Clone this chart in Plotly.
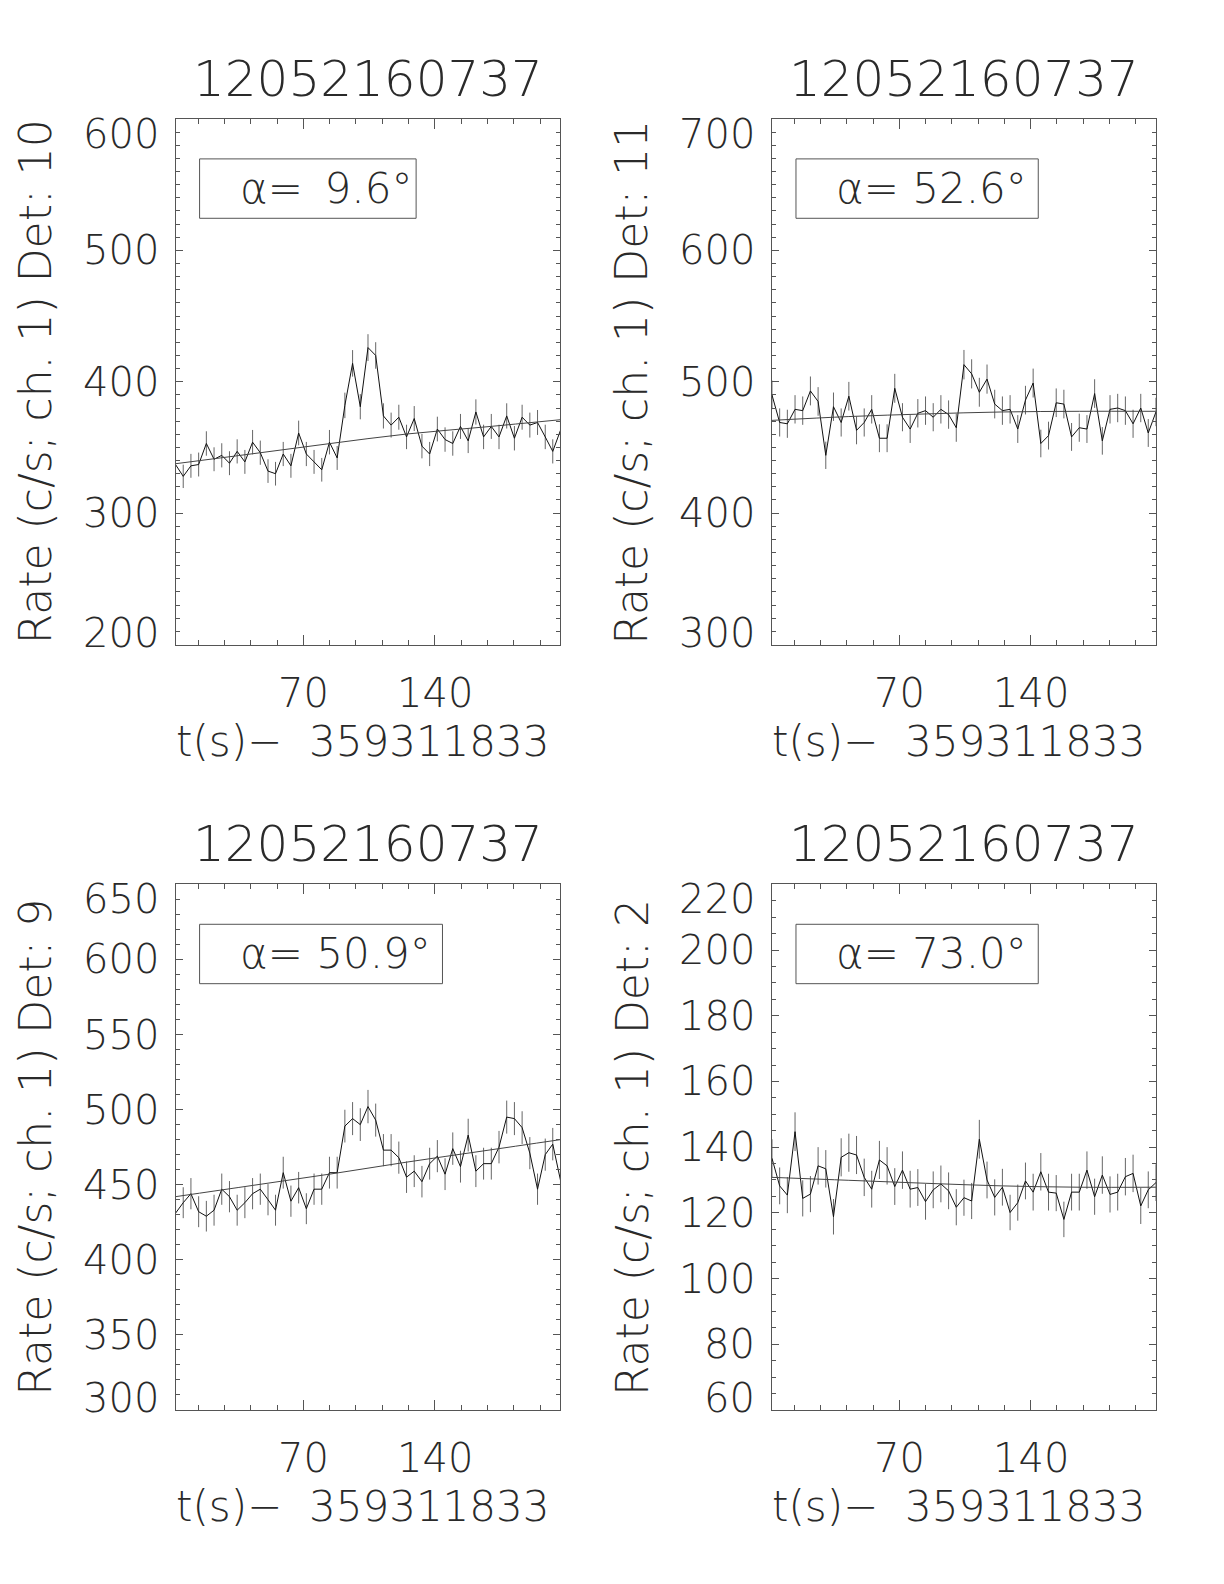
import plotly.graph_objects as go

# ---------------- data ----------------
TIME = [2.0, 6.1, 10.2, 14.3, 18.4, 22.5, 26.6, 30.7, 34.8, 38.9, 43.0, 47.1, 51.2, 55.2, 59.3,
        63.4, 67.5, 71.6, 75.7, 79.8, 83.9, 88.0, 92.1, 96.2, 100.3, 104.4, 108.5, 112.6, 116.7,
        120.8, 124.9, 129.0, 133.1, 137.2, 141.3, 145.4, 149.5, 153.6, 157.7, 161.8, 165.9, 170.0,
        174.1, 178.2, 182.3, 186.4, 190.5, 194.6, 198.7, 202.7, 206.8]
BG_TIME = [2.0, 43.0, 83.9, 124.9, 165.9, 206.8]

TITLE = "12052160737"
XTITLE = "t(s)\u2212  359311833"
XTICKS = [70, 140]

rate_det10 = [337, 328, 336, 337, 353, 341, 344, 338, 347, 339, 354, 346, 332, 330, 345, 336, 361,
              345, 339, 333, 354, 342, 382, 414, 381, 426, 420, 374, 367, 373, 358, 372, 351, 345,
              364, 356, 353, 366, 355, 377, 358, 366, 358, 374, 357, 373, 367, 369, 358, 347, 363]
err_det10 = [9.1, 8.9, 9.1, 9.1, 9.3, 9.1, 9.2, 9.1, 9.2, 9.1, 9.3, 9.2, 9.0, 9.0, 9.2, 9.1, 9.4,
             9.2, 9.1, 9.0, 9.3, 9.1, 9.7, 10.1, 9.6, 10.2, 10.1, 9.6, 9.5, 9.5, 9.3, 9.5, 9.3, 9.2,
             9.4, 9.3, 9.3, 9.5, 9.3, 9.6, 9.3, 9.5, 9.3, 9.6, 9.3, 9.5, 9.5, 9.5, 9.3, 9.2, 9.4]
bg_det10 = [337.6, 345.2, 352.9, 360.2, 365.5, 371.1]

rate_det11 = [490, 469, 468, 479, 478, 493, 485, 444, 481, 469, 489, 463, 469, 479, 457, 457, 495,
              473, 464, 476, 478, 473, 479, 475, 465, 513, 506, 492, 502, 483, 478, 479, 464, 486,
              499, 453, 459, 484, 483, 458, 465, 464, 491, 455, 479, 480, 478, 468, 480, 461, 477]
err_det11 = [10.9, 10.7, 10.7, 10.8, 10.8, 11.0, 10.9, 10.4, 10.8, 10.7, 10.9, 10.6, 10.7, 10.8,
             10.6, 10.6, 11.0, 10.7, 10.6, 10.8, 10.8, 10.7, 10.8, 10.8, 10.7, 11.2, 11.1, 11.0,
             11.1, 10.9, 10.8, 10.8, 10.6, 10.9, 11.0, 10.5, 10.6, 10.9, 10.9, 10.6, 10.7, 10.6,
             10.9, 10.5, 10.8, 10.8, 10.8, 10.7, 10.8, 10.6, 10.8]
bg_det11 = [470.6, 473.5, 475.5, 477.0, 477.5, 477.5]

rate_det9 = [431, 438, 444, 432, 429, 433, 447, 442, 433, 438, 444, 447, 440, 433, 458, 439, 448,
             434, 447, 447, 458, 458, 489, 494, 490, 502, 493, 473, 473, 468, 455, 459, 452, 464,
             469, 457, 474, 462, 483, 459, 464, 464, 475, 495, 494, 488, 471, 447, 470, 477, 453]
err_det9 = [10.3, 10.3, 10.4, 10.3, 10.2, 10.3, 10.4, 10.4, 10.3, 10.3, 10.4, 10.4, 10.4, 10.3,
            10.6, 10.4, 10.5, 10.3, 10.4, 10.4, 10.6, 10.6, 10.9, 11.0, 10.9, 11.1, 11.0, 10.7,
            10.7, 10.7, 10.5, 10.6, 10.5, 10.6, 10.7, 10.6, 10.8, 10.6, 10.9, 10.6, 10.6, 10.6,
            10.8, 11.0, 11.0, 10.9, 10.7, 10.4, 10.7, 10.8, 10.5]
bg_det9 = [442.0, 449.5, 457.0, 465.0, 472.5, 480.0]

rate_det2 = [136.6, 128.2, 125.4, 144.7, 124.4, 125.7, 134.3, 133.4, 118.8, 136.9, 138.3, 137.6,
             130.8, 127.2, 136.1, 134.3, 128.0, 133.0, 127.2, 127.7, 123.4, 127.0, 128.8, 126.7,
             121.7, 124.6, 123.6, 142.4, 130.0, 124.7, 127.8, 120.1, 123.1, 129.7, 126.3, 132.5,
             126.3, 126.0, 118.0, 126.3, 126.3, 133.0, 124.9, 131.5, 125.6, 126.3, 131.0, 132.0,
             122.1, 127.0, 129.2]
err_det2 = [5.8, 5.6, 5.5, 5.9, 5.5, 5.5, 5.7, 5.7, 5.4, 5.8, 5.8, 5.8, 5.7, 5.6, 5.8, 5.7, 5.6,
            5.7, 5.6, 5.6, 5.5, 5.6, 5.6, 5.6, 5.5, 5.5, 5.5, 5.9, 5.6, 5.5, 5.6, 5.4, 5.5, 5.6,
            5.6, 5.7, 5.6, 5.5, 5.4, 5.6, 5.6, 5.7, 5.5, 5.7, 5.5, 5.6, 5.7, 5.7, 5.5, 5.6, 5.6]
bg_det2 = [130.8, 129.9, 129.0, 128.2, 127.8, 127.8]

DETECTORS = ["10", "11", "9", "2"]
ALPHAS = ["\u20099.6", "52.6", "50.9", "73.0"]
YRANGES = [[200, 600], [300, 700], [300, 650], [60, 220]]
YTICKS = [[200, 300, 400, 500, 600],
          [300, 400, 500, 600, 700],
          [300, 350, 400, 450, 500, 550, 600, 650],
          [60, 80, 100, 120, 140, 160, 180, 200, 220]]
YMINOR = [10, 10, 10, 5]
RATES = [rate_det10, rate_det11, rate_det9, rate_det2]
ERRS = [err_det10, err_det11, err_det9, err_det2]
BGS = [bg_det10, bg_det11, bg_det9, bg_det2]

# ---------------- layout geometry ----------------
XDOMS = [[0.1434, 0.4579], [0.6307, 0.9444], [0.1434, 0.4579], [0.6307, 0.9444]]
YDOMS = [[0.5931, 0.9249], [0.5931, 0.9249], [0.1099, 0.4417], [0.1099, 0.4417]]
BOX_RIGHT = [0.625, 0.6935, 0.6935, 0.6935]

FONT = "DejaVu Sans"
TXT = "#2a2a2a"
AX = "#555555"

fig = go.Figure()
annotations = []
shapes = []
layout = {}

for i in range(4):
    n = "" if i == 0 else str(i + 1)
    xa, ya = "x" + n, "y" + n
    fig.add_trace(go.Scatter(
        x=TIME, y=RATES[i], mode="lines", xaxis=xa, yaxis=ya,
        line=dict(color="#111111", width=1),
        error_y=dict(type="data", array=ERRS[i], visible=True, width=0,
                     thickness=1, color="#666666"),
        showlegend=False, hoverinfo="skip"))
    fig.add_trace(go.Scatter(
        x=BG_TIME, y=BGS[i], mode="lines", xaxis=xa, yaxis=ya,
        line=dict(color="#444444", width=1, shape="spline"),
        showlegend=False, hoverinfo="skip"))

    common = dict(showline=True, linecolor=AX, linewidth=1, mirror="ticks",
                  ticks="inside", tickcolor=AX, tickwidth=1, showgrid=False,
                  zeroline=False, showticklabels=False)
    layout["xaxis" + n] = dict(
        common, domain=XDOMS[i], anchor=ya, range=[TIME[0], TIME[-1]],
        tickmode="array", tickvals=XTICKS, ticklen=10,
        minor=dict(tickmode="linear", tick0=0, dtick=14, ticklen=5,
                   ticks="inside", tickcolor=AX, showgrid=False))
    yr = YRANGES[i]
    layout["yaxis" + n] = dict(
        common, domain=YDOMS[i], anchor=xa, range=yr,
        tickmode="linear", tick0=yr[0], dtick=YTICKS[i][1] - YTICKS[i][0], ticklen=7,
        minor=dict(tickmode="linear", tick0=yr[0], dtick=YMINOR[i], ticklen=4,
                   ticks="inside", tickcolor=AX, showgrid=False))

    xd, yd = xa + " domain", ya + " domain"
    f = dict(family=FONT, size=40, color=TXT, weight=200)
    fbig = dict(family=FONT, size=42, color=TXT, weight=200)

    # y tick labels
    for v in YTICKS[i]:
        shift = 0
        if v == yr[1]:
            shift = -15
        elif v == yr[0]:
            shift = 12
        annotations.append(dict(xref=xd, yref=ya, x=0, y=v, text=str(v), showarrow=False,
                                xanchor="right", yanchor="middle", xshift=-15, yshift=shift,
                                font=f))
    # x tick labels
    for v in XTICKS:
        annotations.append(dict(xref=xa, yref=yd, x=v, y=0, text=str(v), showarrow=False,
                                xanchor="center", yanchor="middle", yshift=-48, font=f))
    # x title
    annotations.append(dict(xref=xd, yref=yd, x=0.5, y=0, text=XTITLE, showarrow=False,
                            xanchor="center", yanchor="middle", yshift=-97, xshift=-5, font=fbig))
    # y title
    annotations.append(dict(xref=xd, yref=yd, x=0, y=0.5,
                            text="Rate (c/s; ch. 1) Det: " + DETECTORS[i], showarrow=False,
                            textangle=-90, xanchor="center", yanchor="middle", xshift=-140,
                            font=dict(family=FONT, size=44, color=TXT, weight=200)))
    # panel title
    annotations.append(dict(xref=xd, yref=yd, x=0.5, y=1, text=TITLE, showarrow=False,
                            xanchor="center", yanchor="middle", yshift=40,
                            font=dict(family=FONT, size=50, color=TXT, weight=200)))
    # alpha box
    shapes.append(dict(type="rect", xref=xd, yref=yd, x0=0.0625, x1=BOX_RIGHT[i],
                       y0=1 - 0.189, y1=1 - 0.076, line=dict(color="#555555", width=1)))
    annotations.append(dict(xref=xd, yref=yd, x=0.0625, y=1 - 0.1325,
                            text="\u03b1= " + ALPHAS[i] + "\u00b0", showarrow=False,
                            xanchor="left", yanchor="middle", xshift=38, font=fbig))

fig.update_layout(
    width=1224, height=1584, autosize=False,
    margin=dict(l=0, r=0, t=0, b=0),
    paper_bgcolor="white", plot_bgcolor="white",
    annotations=annotations, shapes=shapes, **layout)

fig.write_html("out.html", config={"displayModeBar": False},
               post_script="document.body.style.margin='0px';")
